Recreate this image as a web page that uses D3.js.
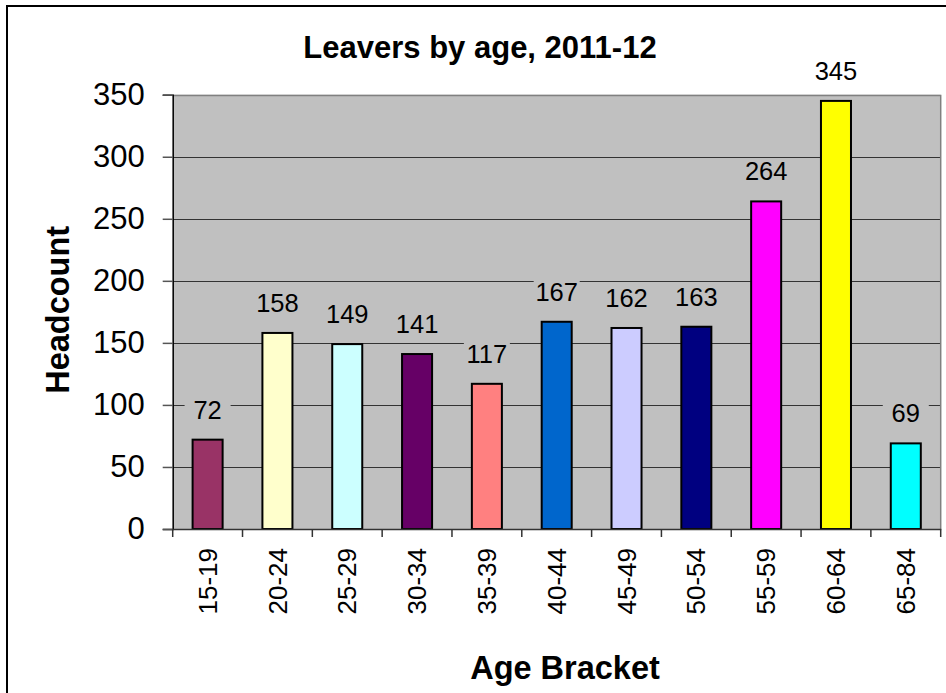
<!DOCTYPE html>
<html>
<head>
<meta charset="utf-8">
<script src="https://cdn.jsdelivr.net/npm/d3@7"></script>
<style>
  body { margin: 0; background: #fff; }
  svg text { font-family: "Liberation Sans", Arial, sans-serif; fill: #000; }
</style>
</head>
<body>
<svg id="chart" width="946" height="693"></svg>
<script>
// chart data
const ageBrackets = ['15-19', '20-24', '25-29', '30-34', '35-39', '40-44', '45-49', '50-54', '55-59', '60-64', '65-84'];
const headcounts = [72, 158, 149, 141, 117, 167, 162, 163, 264, 345, 69];
const barColours = ['#993366', '#FFFFCC', '#CCFFFF', '#660066', '#FF8080', '#0066CC', '#CCCCFF', '#000080', '#FF00FF', '#FFFF00', '#00FFFF'];
const yTicks = [0, 50, 100, 150, 200, 250, 300, 350];

const svg = d3.select('#chart');
const plot = {left: 172.7, right: 940.7, top: 94.7, bottom: 529};

// outer chart border (runs off the right and bottom of the picture)
svg.append('rect')
    .attr('x', 7).attr('y', 6)
    .attr('width', 1000).attr('height', 1000)
    .attr('fill', 'none')
    .attr('stroke', '#000')
    .attr('stroke-width', 2);

const x = d3.scaleBand()
    .domain(ageBrackets)
    .range([plot.left, plot.right])
    .padding(0);
const y = d3.scaleLinear()
    .domain([0, 350])
    .range([plot.bottom, plot.top]);
const barWidth = x.bandwidth() * 0.43;

// plot background
svg.append('rect')
    .attr('x', plot.left).attr('y', plot.top)
    .attr('width', plot.right - plot.left)
    .attr('height', plot.bottom - plot.top)
    .attr('fill', '#C0C0C0');

svg.append('clipPath').attr('id', 'plot-clip')
  .append('rect')
    .attr('x', plot.left).attr('y', plot.top)
    .attr('width', plot.right - plot.left)
    .attr('height', plot.bottom - plot.top);

// gridlines
svg.append('g')
  .selectAll('line')
  .data(yTicks.filter(d => d > 0 && d < 350))
  .join('line')
    .attr('x1', plot.left).attr('x2', plot.right)
    .attr('y1', d => Math.round(y(d)) + 0.5)
    .attr('y2', d => Math.round(y(d)) + 0.5)
    .attr('stroke', '#333')
    .attr('stroke-width', 1);

// plot border top/right
svg.append('path')
    .attr('d', `M${plot.left},${Math.round(plot.top) + 0.5}H${plot.right}V${plot.bottom}`)
    .attr('fill', 'none')
    .attr('stroke', '#808080')
    .attr('stroke-width', 1.5);

// bars
svg.append('g')
  .selectAll('rect')
  .data(ageBrackets)
  .join('rect')
    .attr('x', d => x(d) + (x.bandwidth() - barWidth) / 2)
    .attr('y', (d, i) => y(headcounts[i]))
    .attr('width', barWidth)
    .attr('height', (d, i) => y(0) - y(headcounts[i]))
    .attr('fill', (d, i) => barColours[i])
    .attr('stroke', '#000')
    .attr('stroke-width', 2);

// y axis
const yAxis = svg.append('g')
    .attr('transform', `translate(${plot.left},0)`)
    .call(d3.axisLeft(y).tickValues(yTicks).tickSize(10).tickPadding(18));
yAxis.select('.domain').attr('stroke', '#000').attr('stroke-width', 1.5);
yAxis.selectAll('.tick line').attr('stroke', '#555').attr('stroke-width', 1.5);
yAxis.selectAll('.tick text')
    .attr('font-size', '31px')
    .attr('font-family', '"Liberation Sans", Arial, sans-serif')
    .attr('fill', '#000');

// x axis
const xAxis = svg.append('g')
    .attr('transform', `translate(0,${plot.bottom})`)
    .call(d3.axisBottom(x).tickSize(0).tickPadding(0));
xAxis.select('.domain').attr('stroke', '#333').attr('stroke-width', 1.5);
xAxis.selectAll('.tick text')
    .attr('font-size', '26px')
    .attr('font-family', '"Liberation Sans", Arial, sans-serif')
    .attr('fill', '#000')
    .attr('text-anchor', 'end')
    .attr('transform', 'rotate(-90)')
    .attr('x', -19)
    .attr('y', 0)
    .attr('dy', '0.35em');
// category boundary ticks
svg.append('g')
  .selectAll('line')
  .data(ageBrackets.concat(['end']))
  .join('line')
    .attr('x1', (d, i) => i < ageBrackets.length ? x(d) : plot.right)
    .attr('x2', (d, i) => i < ageBrackets.length ? x(d) : plot.right)
    .attr('y1', plot.bottom)
    .attr('y2', plot.bottom + 8)
    .attr('stroke', '#333')
    .attr('stroke-width', 1.5);

// data labels
const labels = svg.append('g');
labels.selectAll('rect')
  .data(ageBrackets)
  .join('rect')
    .attr('clip-path', 'url(#plot-clip)')
    .attr('x', d => x(d) + x.bandwidth() / 2 - 23)
    .attr('y', (d, i) => y(headcounts[i]) - 42)
    .attr('width', 46)
    .attr('height', 25)
    .attr('fill', '#C0C0C0');
labels.selectAll('text')
  .data(ageBrackets)
  .join('text')
    .attr('x', d => x(d) + x.bandwidth() / 2)
    .attr('y', (d, i) => y(headcounts[i]) - 21)
    .attr('text-anchor', 'middle')
    .attr('font-size', '25.5px')
    .text((d, i) => headcounts[i]);

// titles
svg.append('text')
    .attr('x', 480)
    .attr('y', 58)
    .attr('text-anchor', 'middle')
    .attr('font-size', '31px')
    .attr('font-weight', 'bold')
    .text('Leavers by age, 2011-12');

svg.append('text')
    .attr('transform', `translate(69,${(plot.top + plot.bottom) / 2 - 2}) rotate(-90)`)
    .attr('text-anchor', 'middle')
    .attr('font-size', '32.5px')
    .attr('font-weight', 'bold')
    .text('Headcount');

svg.append('text')
    .attr('x', 565)
    .attr('y', 679)
    .attr('text-anchor', 'middle')
    .attr('font-size', '32.5px')
    .attr('font-weight', 'bold')
    .text('Age Bracket');
</script>
</body>
</html>
